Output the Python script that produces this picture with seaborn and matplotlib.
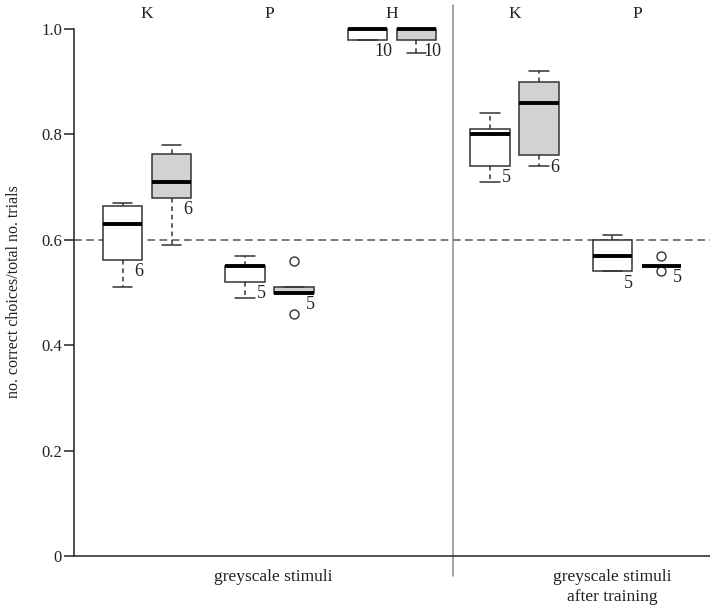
import numpy as np
import pandas as pd
import matplotlib
matplotlib.use('Agg')
import matplotlib.pyplot as plt
import seaborn as sns

# groups along x and what the boxes hold (white = first box, grey = second box)
groups = ['K', 'P', 'H', 'K', 'P']
fills = ['white', 'grey']

# proportions of correct choices, one list per box
k_white = [0.51, 0.55, 0.60, 0.66, 0.665, 0.67]
k_grey = [0.59, 0.68, 0.68, 0.74, 0.77, 0.78]
p_white = [0.49, 0.52, 0.55, 0.55, 0.57]
p_grey = [0.46, 0.50, 0.50, 0.51, 0.56]
h_white = [0.98, 0.98, 0.98, 0.98, 1.0, 1.0, 1.0, 1.0, 1.0, 1.0]
h_grey = [0.955, 0.98, 0.98, 0.98, 1.0, 1.0, 1.0, 1.0, 1.0, 1.0]
k_white_tr = [0.71, 0.74, 0.80, 0.81, 0.84]
k_grey_tr = [0.74, 0.74, 0.82, 0.90, 0.90, 0.92]
p_white_tr = [0.54, 0.54, 0.57, 0.60, 0.61]
p_grey_tr = [0.54, 0.55, 0.55, 0.55, 0.57]

boxes = [(k_white, k_grey), (p_white, p_grey), (h_white, h_grey),
         (k_white_tr, k_grey_tr), (p_white_tr, p_grey_tr)]

section_labels = ['greyscale stimuli', 'greyscale stimuli\nafter training']
ylabel = 'no. correct choices/total no. trials'
chance = 0.6

rows = []
for g, pair in enumerate(boxes):
    for f, vals in zip(fills, pair):
        pos = g - 0.2 if f == 'white' else g + 0.2
        for v in vals:
            rows.append({'pos': pos, 'fill': f, 'value': v})
df = pd.DataFrame(rows)

sns.set_style('ticks')
plt.rcParams['font.family'] = ['Liberation Serif', 'DejaVu Serif']

fig = plt.figure(figsize=(7.1, 6.07), dpi=100)
ax = fig.add_axes([74 / 710, 51 / 607, 636 / 710, 527 / 607])

edge = '#333333'
sns.boxplot(data=df, x='pos', y='value', hue='fill', hue_order=fills,
            palette={'white': 'white', 'grey': '#d2d2d2'}, saturation=1,
            native_scale=True, dodge=False, width=0.8, legend=False,
            linecolor=edge, linewidth=1.1, whis=1.5, ax=ax,
            medianprops=dict(color='black', linewidth=2.8),
            whiskerprops=dict(linestyle=(0, (3, 2.5))),
            capprops=dict(linestyle='-'),
            flierprops=dict(marker='o', markerfacecolor='none',
                            markeredgecolor=edge, markersize=6.5,
                            markeredgewidth=1.0))

for art in ax.patches + ax.lines:
    art.set_clip_on(False)

ax.set_xlim(-0.596, 4.596)
ax.set_ylim(0, 1.0)
ax.axhline(chance, color='#555555', lw=1.1, ls=(0, (5, 3)), zorder=0.5)
ax.axvline(2.5, ymin=-0.038, ymax=1.045, color='#8a8a8a', lw=1.1, clip_on=False)

# n under each box
for g, pair in enumerate(boxes):
    for f, vals in zip(fills, pair):
        pos = g - 0.2 if f == 'white' else g + 0.2
        q1 = np.percentile(vals, 25)
        ax.annotate(str(len(vals)), (pos, q1), xytext=(11.5, -8.5),
                    textcoords='offset points', ha='center', va='center',
                    fontsize=13, color='#222222')

for g, name in enumerate(groups):
    ax.annotate(name, (g, 1.0), xytext=(0, 11), textcoords='offset points',
                ha='center', va='center', fontsize=12.5, color='#222222')

ax.text(1.03, -0.024, section_labels[0], transform=ax.get_xaxis_transform(),
        ha='center', va='top', fontsize=12.5, color='#222222')
ax.text(3.8, -0.024, section_labels[1], transform=ax.get_xaxis_transform(),
        ha='center', va='top', fontsize=12.5, color='#222222', linespacing=1.35)

ax.set_xticks([])
ax.set_xlabel('')
ax.set_ylabel('')
ax.set_yticks([0, 0.2, 0.4, 0.6, 0.8, 1.0])
ax.set_yticklabels(['0', '0.2', '0.4', '0.6', '0.8', '1.0'])
ax.tick_params(axis='y', direction='out', length=7.2, width=1.1, pad=1.5,
               labelsize=12, colors='#222222')
for side in ['top', 'right']:
    ax.spines[side].set_visible(False)
for side in ['left', 'bottom']:
    ax.spines[side].set_linewidth(1.1)
    ax.spines[side].set_color('#222222')

fig.text(14 / 710, (607 - 292) / 607, ylabel, rotation=90, ha='center',
         va='center', fontsize=11.5, color='#222222')

fig.savefig('out.png', dpi=100)
